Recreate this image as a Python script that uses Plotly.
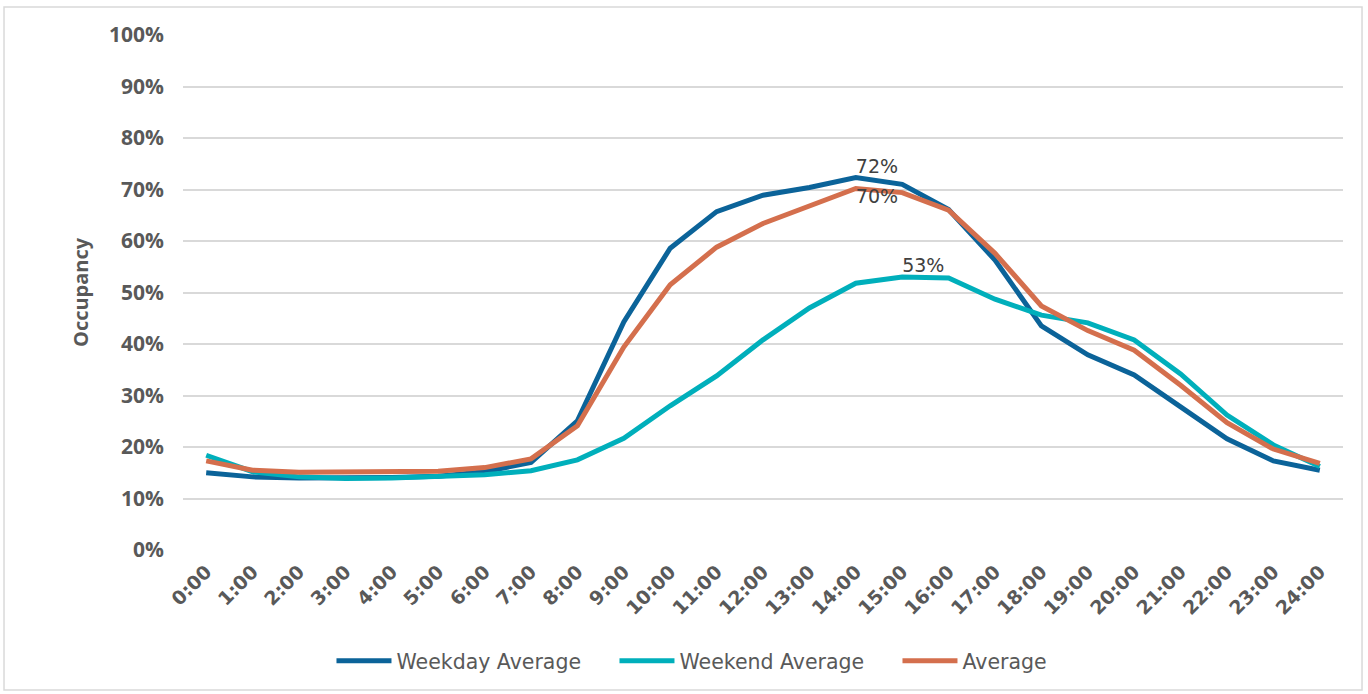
import plotly.graph_objects as go

hours = [f"{h}:00" for h in range(25)]
weekday = [15.0, 14.2, 14.0, 14.0, 14.1, 14.3, 15.2, 17.0, 25.1, 44.3, 58.6, 65.7, 68.9, 70.4, 72.3, 71.0, 66.1, 56.3, 43.5, 37.9, 34.0, 27.8, 21.6, 17.3, 15.5]
weekend = [18.4, 15.2, 14.2, 13.9, 14.0, 14.2, 14.6, 15.4, 17.5, 21.7, 28.0, 33.8, 40.8, 47.0, 51.8, 53.0, 52.8, 48.7, 45.6, 44.1, 40.8, 34.2, 26.2, 20.4, 16.2]
average = [17.3, 15.5, 15.1, 15.1, 15.2, 15.3, 16.0, 17.7, 24.1, 39.4, 51.5, 58.8, 63.4, 66.8, 70.2, 69.4, 66.0, 57.6, 47.4, 42.6, 38.8, 32.0, 24.7, 19.6, 16.8]
y_ticks = list(range(0, 101, 10))
y_tick_labels = [f"{v}%" for v in y_ticks]

def peak_labels(vals):
    i = vals.index(max(vals))
    return [f"{round(v)}%" if k == i else "" for k, v in enumerate(vals)]

FONT = "DejaVu Sans"
AXFONT = "Open Sans"
GRAY = "#595959"

fig = go.Figure()
series = [
    ("Weekday Average", weekday, "#0B6399", "top right"),
    ("Weekend Average", weekend, "#00AFBB", "top right"),
    ("Average", average, "#D46F4D", "bottom right"),
]
for name, vals, color, pos in series:
    fig.add_trace(go.Scatter(
        x=hours, y=vals, name=name, mode="lines+text",
        line=dict(color=color, width=5),
        text=peak_labels(vals), textposition=pos,
        textfont=dict(family=FONT, size=19, color="#404040"),
        cliponaxis=False,
    ))

fig.update_layout(
    width=1368, height=694,
    margin=dict(l=183, r=25, t=35, b=144),
    paper_bgcolor="white", plot_bgcolor="white",
    showlegend=True,
    legend=dict(orientation="h", x=0.128, y=-0.2155, xanchor="left", yanchor="middle",
                font=dict(family=FONT, size=20.5, color=GRAY),
                entrywidth=213, entrywidthmode="pixels", itemwidth=55,
                traceorder="normal"),
    shapes=[dict(type="rect", xref="paper", yref="paper",
                 x0=-0.1543, x1=1.0164, y0=-0.2718, y1=1.0544,
                 line=dict(color="#D9D9D9", width=1.5), layer="below")],
    annotations=[dict(text="Occupancy", xref="paper", yref="paper",
                      x=-0.0879, y=0.501, xanchor="center", yanchor="middle",
                      textangle=-90, showarrow=False,
                      font=dict(family=AXFONT, size=20, color=GRAY, weight="bold"))],
)
fig.update_xaxes(
    type="category", range=[-0.5, 24.5], showgrid=False, showline=False,
    tickangle=-45, tickfont=dict(family=FONT, size=19, color=GRAY, weight="bold"),
    ticks="", automargin=False, ticklabelstandoff=6,
)
fig.update_yaxes(
    range=[0, 100], tickvals=y_ticks, ticktext=y_tick_labels,
    showgrid=True, gridcolor="#D9D9D9", gridwidth=1.5, zeroline=False,
    showline=False, ticks="", ticklabelstandoff=18, automargin=False,
    tickfont=dict(family=AXFONT, size=21, color=GRAY, weight="bold"),
)

fig.write_html("out.html", config={"displayModeBar": False},
               post_script="document.body.style.margin='0';document.body.style.overflow='hidden';")
